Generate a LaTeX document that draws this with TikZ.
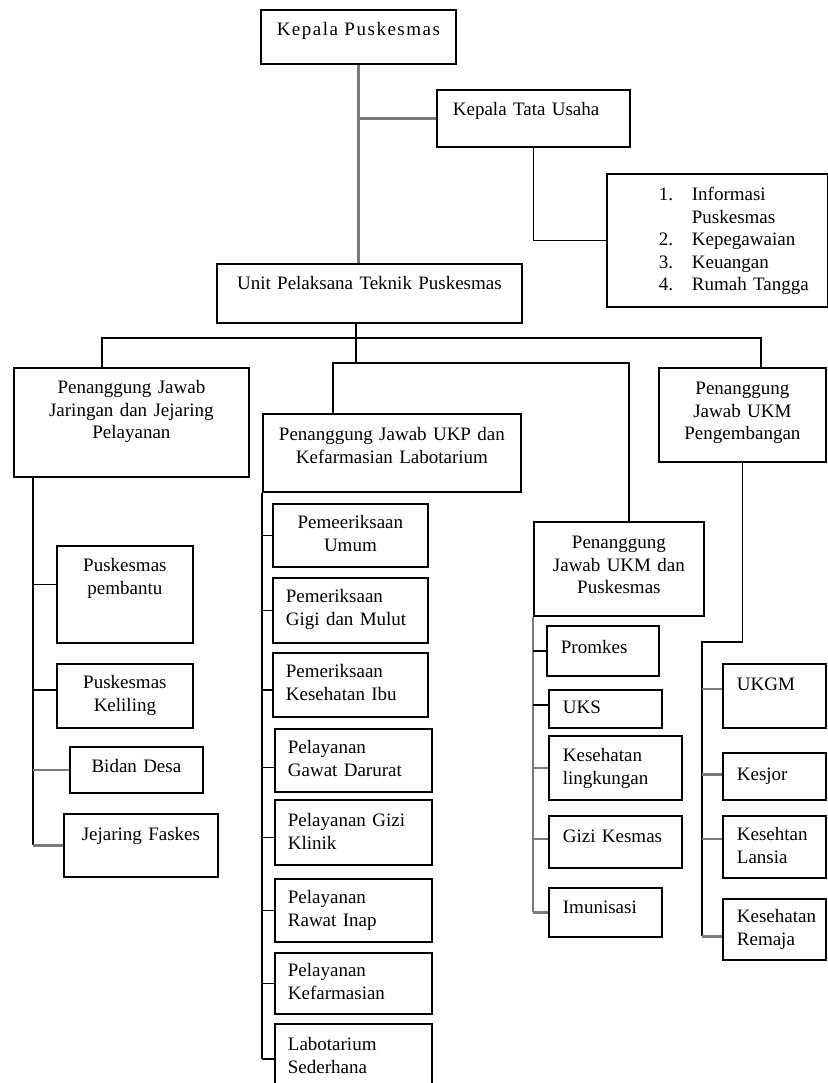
\documentclass[tikz,border=0pt]{standalone}
\usepackage{fontspec}
\setmainfont{Liberation Serif}
\usepackage{xcolor}
\definecolor{l_gray}{HTML}{7A7A7A}
\usepackage{tikz}

\begin{document}
\begin{tikzpicture}[
        x=1pt, y=-1pt,
        box/.style={draw, line width=1.8pt, anchor=north west, inner ysep=0pt,
            text height=26pt, font=\fontsize{19}{22.5}\selectfont},
        cbox/.style={box, inner xsep=4pt, align=center},
        lbox/.style={box, inner xsep=14pt, align=left},
        conn/.style={line width=1.7pt},
        gconn/.style={line width=2.8pt, draw=l_gray}]
    \useasboundingbox (0,0) rectangle (827,1083);

    % top
    \node[cbox, text width=187pt, text depth=28pt] (kp) at (260,9) {\addfontfeature{LetterSpace=8}Kepala Puskesmas};
    \node[box, inner xsep=16pt, align=left, text width=161pt, text depth=31pt] (ktu) at (436,89) {Kepala Tata Usaha};
    \node[box, inner xsep=4pt, align=left, text height=27pt, text width=213pt, text depth=106pt] (info) at (606,173)
        {\hspace*{48pt}\makebox[33pt][l]{1.}Informasi\\
         \hspace*{81pt}Puskesmas\\
         \hspace*{48pt}\makebox[33pt][l]{2.}Kepegawaian\\
         \hspace*{48pt}\makebox[33pt][l]{3.}Keuangan\\
         \hspace*{48pt}\makebox[33pt][l]{4.}Rumah Tangga};
    \node[cbox, text width=297pt, text depth=33pt] (upt) at (216,263) {Unit Pelaksana Teknik Puskesmas};

    % penanggung jawab
    \node[cbox, text width=227pt, text depth=83pt] (jar) at (13,367) {Penanggung Jawab\\Jaringan dan Jejaring\\Pelayanan};
    \node[cbox, text height=27pt, text width=250pt, text depth=51pt] (ukp) at (262,413) {Penanggung Jawab UKP dan\\Kefarmasian Labotarium};
    \node[cbox, text height=27pt, text width=162pt, text depth=67pt] (ukm) at (533,521) {Penanggung\\Jawab UKM dan\\Puskesmas};
    \node[cbox, text height=27pt, text width=159pt, text depth=67pt] (peng) at (658,367) {Penanggung\\Jawab UKM\\Pengembangan};

    % jaringan
    \node[cbox, text width=128pt, text depth=71pt] (pp) at (56,545) {Puskesmas\\pembantu};
    \node[cbox, text height=25pt, text width=128pt, text depth=39pt] (pk) at (56,663) {Puskesmas\\Keliling};
    \node[cbox, text width=125pt, text depth=20pt] (bd) at (69,746) {Bidan Desa};
    \node[cbox, text height=27pt, text width=146pt, text depth=36pt] (jf) at (63,813) {Jejaring Faskes};

    % ukp
    \node[cbox, text height=25pt, text width=147pt, text depth=38pt] (umum) at (272,503) {Pemeeriksaan\\Umum};
    \node[lbox, inner xsep=13pt, text height=25pt, text width=129pt, text depth=40pt] (gigi) at (272,577) {Pemeriksaan\\Gigi dan Mulut};
    \node[lbox, inner xsep=13pt, text height=25pt, text width=129pt, text depth=39pt] (ibu) at (272,652) {Pemeriksaan\\Kesehatan Ibu};
    \node[lbox, inner xsep=13pt, text height=25pt, text width=131pt, text depth=38pt] (gd) at (274,728) {Pelayanan\\Gawat Darurat};
    \node[lbox, inner xsep=13pt, text height=27pt, text width=131pt, text depth=38pt] (gk) at (274,799) {Pelayanan Gizi\\Klinik};
    \node[lbox, inner xsep=13pt, text height=25pt, text width=131pt, text depth=38pt] (ri) at (274,878) {Pelayanan\\Rawat Inap};
    \node[lbox, inner xsep=13pt, text height=24pt, text width=131pt, text depth=37pt] (kf) at (274,952) {Pelayanan\\Kefarmasian};
    \node[lbox, inner xsep=13pt, text height=27pt, text width=131pt, text depth=43pt] (lab) at (274,1023) {Labotarium\\Sederhana};

    % ukm
    \node[lbox, text height=28pt, text width=84pt, text depth=22pt] (prom) at (546,625) {Promkes};
    \node[lbox, text height=24pt, text width=85pt, text depth=14pt] (uks) at (548,689) {UKS};
    \node[lbox, text width=105pt, text depth=38pt] (kl) at (548,735) {Kesehatan\\lingkungan};
    \node[lbox, text height=27pt, text width=105pt, text depth=25pt] (gz) at (548,815) {Gizi Kesmas};
    \node[lbox, text width=85pt, text depth=23pt] (imu) at (548,887) {Imunisasi};

    % pengembangan
    \node[lbox, text height=27pt, text width=75pt, text depth=37pt] (ukgm) at (722,663) {UKGM};
    \node[lbox, text height=28pt, text width=75pt, text depth=19pt] (kesjor) at (722,752) {Kesjor};
    \node[lbox, text height=25pt, text width=75pt, text depth=37pt] (lansia) at (722,815) {Kesehtan\\Lansia};
    \node[lbox, text height=24pt, text width=75pt, text depth=37pt] (remaja) at (722,898) {Kesehatan\\Remaja};

    % connectors
    \coordinate (dj) at (102,338);
    \coordinate (dp) at (761,338);
    \coordinate (b2) at (356,363);
    \coordinate (du) at (333,363);
    \coordinate (dm) at (629,363);
    \coordinate (sj) at (33,0);
    \coordinate (sp) at (702,642);

    \draw[gconn] (kp.south) -- (kp.south |- upt.north);
    \draw[gconn] (kp.south |- ktu.west) -- (ktu.west);
    \draw[conn] (ktu.south) |- (info.west);
    \draw[conn] (upt.south -| b2) -- (b2);
    \draw[conn] (jar.north -| dj) -- (dj) -- (dp) -- (peng.north -| dp);
    \draw[conn] (ukp.north -| du) -- (du) -- (dm) -- (ukm.north -| dm);

    \draw[conn] (jar.south -| sj) -- (sj |- jf.west);
    \foreach \n/\s in {pp/10,pk/6}
        \draw[conn] ([yshift=\s pt]\n.west) coordinate (t) -- (sj |- t);
    \foreach \n in {bd,jf}
        \draw[gconn] (\n.west) -- (sj |- \n.west);

    \draw[conn] (ukp.south west) -- (ukp.south west |- lab.west);
    \foreach \n/\s in {umum/0,gigi/0,ibu/-5,gd/-7,gk/-5,ri/0,kf/0,lab/0}
        \draw[conn] ([yshift=\s pt]\n.west) coordinate (t) -- (ukp.south west |- t);

    \draw[gconn] (ukm.south west) -- (ukm.south west |- imu.west);
    \foreach \n/\s in {prom/0,uks/4}
        \draw[conn] ([yshift=\s pt]\n.west) coordinate (t) -- (ukm.south west |- t);
    \foreach \n/\s in {kl/0,gz/3,imu/0}
        \draw[gconn] ([yshift=\s pt]\n.west) coordinate (t) -- (ukm.south west |- t);

    \path ([yshift=-7pt]remaja.west) coordinate (rc);
    \draw[conn] (peng.south) |- (sp) -- (sp |- rc);
    \foreach \n/\s in {ukgm/7,kesjor/2,lansia/8}
        \draw[gconn] ([yshift=\s pt]\n.west) coordinate (t) -- (sp |- t);
    \draw[gconn] (rc) -- (sp |- rc);
\end{tikzpicture}
\end{document}
